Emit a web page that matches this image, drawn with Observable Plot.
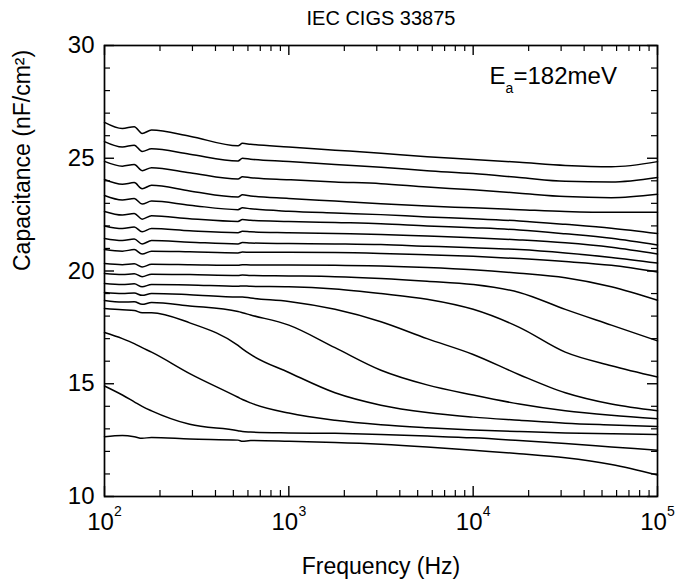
<!DOCTYPE html>
<html><head><meta charset="utf-8">
<script src="https://cdn.jsdelivr.net/npm/d3@7"></script>
<script src="https://cdn.jsdelivr.net/npm/@observablehq/plot@0.6"></script>
<style>
body{margin:0;background:#fff}
svg{font-family:"Liberation Sans",Arial,sans-serif}
</style>
</head><body><div id="chart"></div>
<script>
// Frequencies (Hz) at which each curve was read
const freqs = [100,125,145,160,180,290,530,560,620,1000,1780,3160,5620,10000,17800,31600,56200,100000];

// Capacitance curves (nF/cm^2), lowest (A) to highest (R)
const curveA = [12.65,12.70,12.65,12.58,12.62,12.55,12.50,12.45,12.48,12.45,12.40,12.32,12.20,12.05,11.90,11.72,11.42,10.95];
const curveB = [14.90,14.50,14.20,14.00,13.80,13.20,12.92,12.88,12.86,12.82,12.80,12.75,12.68,12.60,12.48,12.35,12.20,12.05];
const curveC = [17.27,17.00,16.78,16.60,16.40,15.45,14.40,14.30,14.15,13.70,13.38,13.18,13.05,12.95,12.88,12.82,12.78,12.75];
const curveD = [18.34,18.28,18.25,18.15,18.15,17.70,16.70,16.55,16.30,15.50,14.60,14.05,13.72,13.52,13.38,13.25,13.17,13.10];
const curveE = [18.69,18.62,18.64,18.52,18.60,18.45,18.20,18.15,18.05,17.60,16.60,15.60,14.95,14.50,14.10,13.80,13.60,13.45];
const curveF = [19.05,19.00,19.02,18.92,19.00,18.95,18.85,18.85,18.80,18.65,18.30,17.75,17.00,16.30,15.40,14.60,14.10,13.80];
const curveG = [19.45,19.40,19.43,19.30,19.40,19.38,19.32,19.34,19.32,19.30,19.20,19.00,18.75,18.30,17.50,16.40,15.80,15.30];
const curveH = [19.89,19.84,19.88,19.75,19.86,19.84,19.80,19.82,19.80,19.78,19.75,19.67,19.55,19.40,19.05,18.30,17.60,16.90];
const curveI = [20.33,20.28,20.32,20.18,20.30,20.28,20.25,20.28,20.27,20.27,20.26,20.22,20.15,20.05,19.90,19.70,19.30,18.70];
const curveJ = [20.95,20.88,20.95,20.75,20.88,20.85,20.80,20.84,20.83,20.83,20.82,20.78,20.72,20.65,20.55,20.42,20.25,19.95];
const curveK = [21.44,21.35,21.42,21.20,21.35,21.28,21.20,21.26,21.24,21.22,21.20,21.17,21.10,21.03,20.95,20.80,20.60,20.35];
const curveL = [22.00,21.88,21.95,21.74,21.88,21.78,21.70,21.76,21.74,21.70,21.66,21.62,21.55,21.48,21.38,21.25,21.05,20.75];
const curveM = [22.64,22.48,22.55,22.30,22.45,22.32,22.20,22.28,22.25,22.20,22.15,22.10,22.00,21.92,21.82,21.65,21.45,21.15];
const curveN = [23.35,23.15,23.22,22.97,23.10,22.92,22.72,22.80,22.76,22.65,22.57,22.50,22.40,22.32,22.22,22.07,21.90,21.66];
const curveO = [24.06,23.85,23.92,23.65,23.80,23.55,23.28,23.38,23.33,23.22,23.10,22.98,22.88,22.80,22.72,22.64,22.60,22.60];
const curveP = [24.86,24.65,24.72,24.45,24.58,24.36,24.08,24.18,24.14,24.05,23.95,23.87,23.72,23.60,23.45,23.30,23.25,23.40];
const curveQ = [25.74,25.50,25.58,25.30,25.42,25.18,24.88,25.00,24.96,24.86,24.72,24.60,24.45,24.32,24.15,23.98,23.95,24.15];
const curveR = [26.59,26.32,26.40,26.10,26.25,25.98,25.55,25.66,25.62,25.50,25.36,25.22,25.07,24.95,24.82,24.68,24.62,24.85];

const curves = [curveA,curveB,curveC,curveD,curveE,curveF,curveG,curveH,curveI,curveJ,curveK,curveL,curveM,curveN,curveO,curveP,curveQ,curveR];

// Axis ticks and texts
const yTicks = [10,15,20,25,30];
const yMinor = [11,12,13,14,16,17,18,19,21,22,23,24,26,27,28,29];
const xTicks = [100,1000,10000,100000];
const xMinor = [200,300,400,500,600,700,800,900,2000,3000,4000,5000,6000,7000,8000,9000,20000,30000,40000,50000,60000,70000,80000,90000];
const xExponents = ["2","3","4","5"];
const titleText = "IEC CIGS 33875";
const xLabel = "Frequency (Hz)";
const yLabel = "Capacitance (nF/cm\u00B2)";
const annotMain = "E";
const annotSub = "a";
const annotRest = "=182meV";

const rows = curves.flatMap((vals, k) => vals.map((v, i) => ({f: freqs[i], c: v, s: k})));

const W = 679, H = 580, mL = 104, mR = 22, mT = 45, mB = 84;
const innerH = H - mT - mB;
const innerW = W - mL - mR;
const majorLen = 10, minorLen = 6;
const mid = "middle";

const chart = Plot.plot({
  width: W, height: H,
  marginLeft: mL, marginRight: mR, marginTop: mT, marginBottom: mB,
  x: {type: "log", domain: [100, 100000], axis: null},
  y: {domain: [10, 30], axis: null},
  style: {fontFamily: "'Liberation Sans', Arial, sans-serif", color: "black", background: "white"},
  marks: [
    Plot.line(rows, {x: "f", y: "c", z: "s", stroke: "black", strokeWidth: 1.5, curve: "monotone-x"}),
    Plot.frame({stroke: "black", strokeWidth: 1.7}),
    // bottom & top x ticks (inward)
    Plot.tickX(xTicks, {x: d => d, insetTop: innerH - majorLen, stroke: "black", strokeWidth: 1.4}),
    Plot.tickX(xMinor, {x: d => d, insetTop: innerH - minorLen, stroke: "black", strokeWidth: 1.2}),
    Plot.tickX(xTicks, {x: d => d, insetBottom: innerH - majorLen, stroke: "black", strokeWidth: 1.4}),
    Plot.tickX(xMinor, {x: d => d, insetBottom: innerH - minorLen, stroke: "black", strokeWidth: 1.2}),
    // left & right y ticks (inward)
    Plot.tickY(yTicks, {y: d => d, insetRight: innerW - majorLen, stroke: "black", strokeWidth: 1.4}),
    Plot.tickY(yMinor, {y: d => d, insetRight: innerW - minorLen, stroke: "black", strokeWidth: 1.2}),
    Plot.tickY(yTicks, {y: d => d, insetLeft: innerW - majorLen, stroke: "black", strokeWidth: 1.4}),
    Plot.tickY(yMinor, {y: d => d, insetLeft: innerW - minorLen, stroke: "black", strokeWidth: 1.2}),
    // y tick labels
    Plot.text(yTicks, {y: d => d, frameAnchor: "left", text: d => String(d), textAnchor: "end", lineAnchor: mid, dx: -10, fontSize: 24, fill: "black"}),
    // x tick labels 10^n
    Plot.text(xTicks, {x: d => d, frameAnchor: "bottom", text: () => "10", lineAnchor: mid, dx: -4, dy: 26, fontSize: 24, fill: "black"}),
    Plot.text(xTicks, {x: d => d, frameAnchor: "bottom", text: (d, i) => xExponents[i], lineAnchor: mid, dx: 13.5, dy: 15, fontSize: 14, fill: "black"}),
    // axis labels
    Plot.text([xLabel], {frameAnchor: "bottom", lineAnchor: mid, dy: 70, fontSize: 23, fill: "black"}),
    Plot.text([yLabel], {frameAnchor: "left", lineAnchor: mid, rotate: -90, dx: -82, fontSize: 23, fill: "black"}),
    // title
    Plot.text([titleText], {frameAnchor: "top", lineAnchor: mid, dy: -27, fontSize: 20, fill: "black"}),
    // annotation E_a=182meV
    Plot.text([annotMain], {frameAnchor: "top-right", lineAnchor: mid, dx: -168, dy: 31, textAnchor: "start", fontSize: 24, fill: "black"}),
    Plot.text([annotSub], {frameAnchor: "top-right", lineAnchor: mid, dx: -152, dy: 43, textAnchor: "start", fontSize: 14, fill: "black"}),
    Plot.text([annotRest], {frameAnchor: "top-right", lineAnchor: mid, dx: -144, dy: 31, textAnchor: "start", fontSize: 24, fill: "black"})
  ]
});
document.getElementById("chart").appendChild(chart);
</script>
</body></html>
